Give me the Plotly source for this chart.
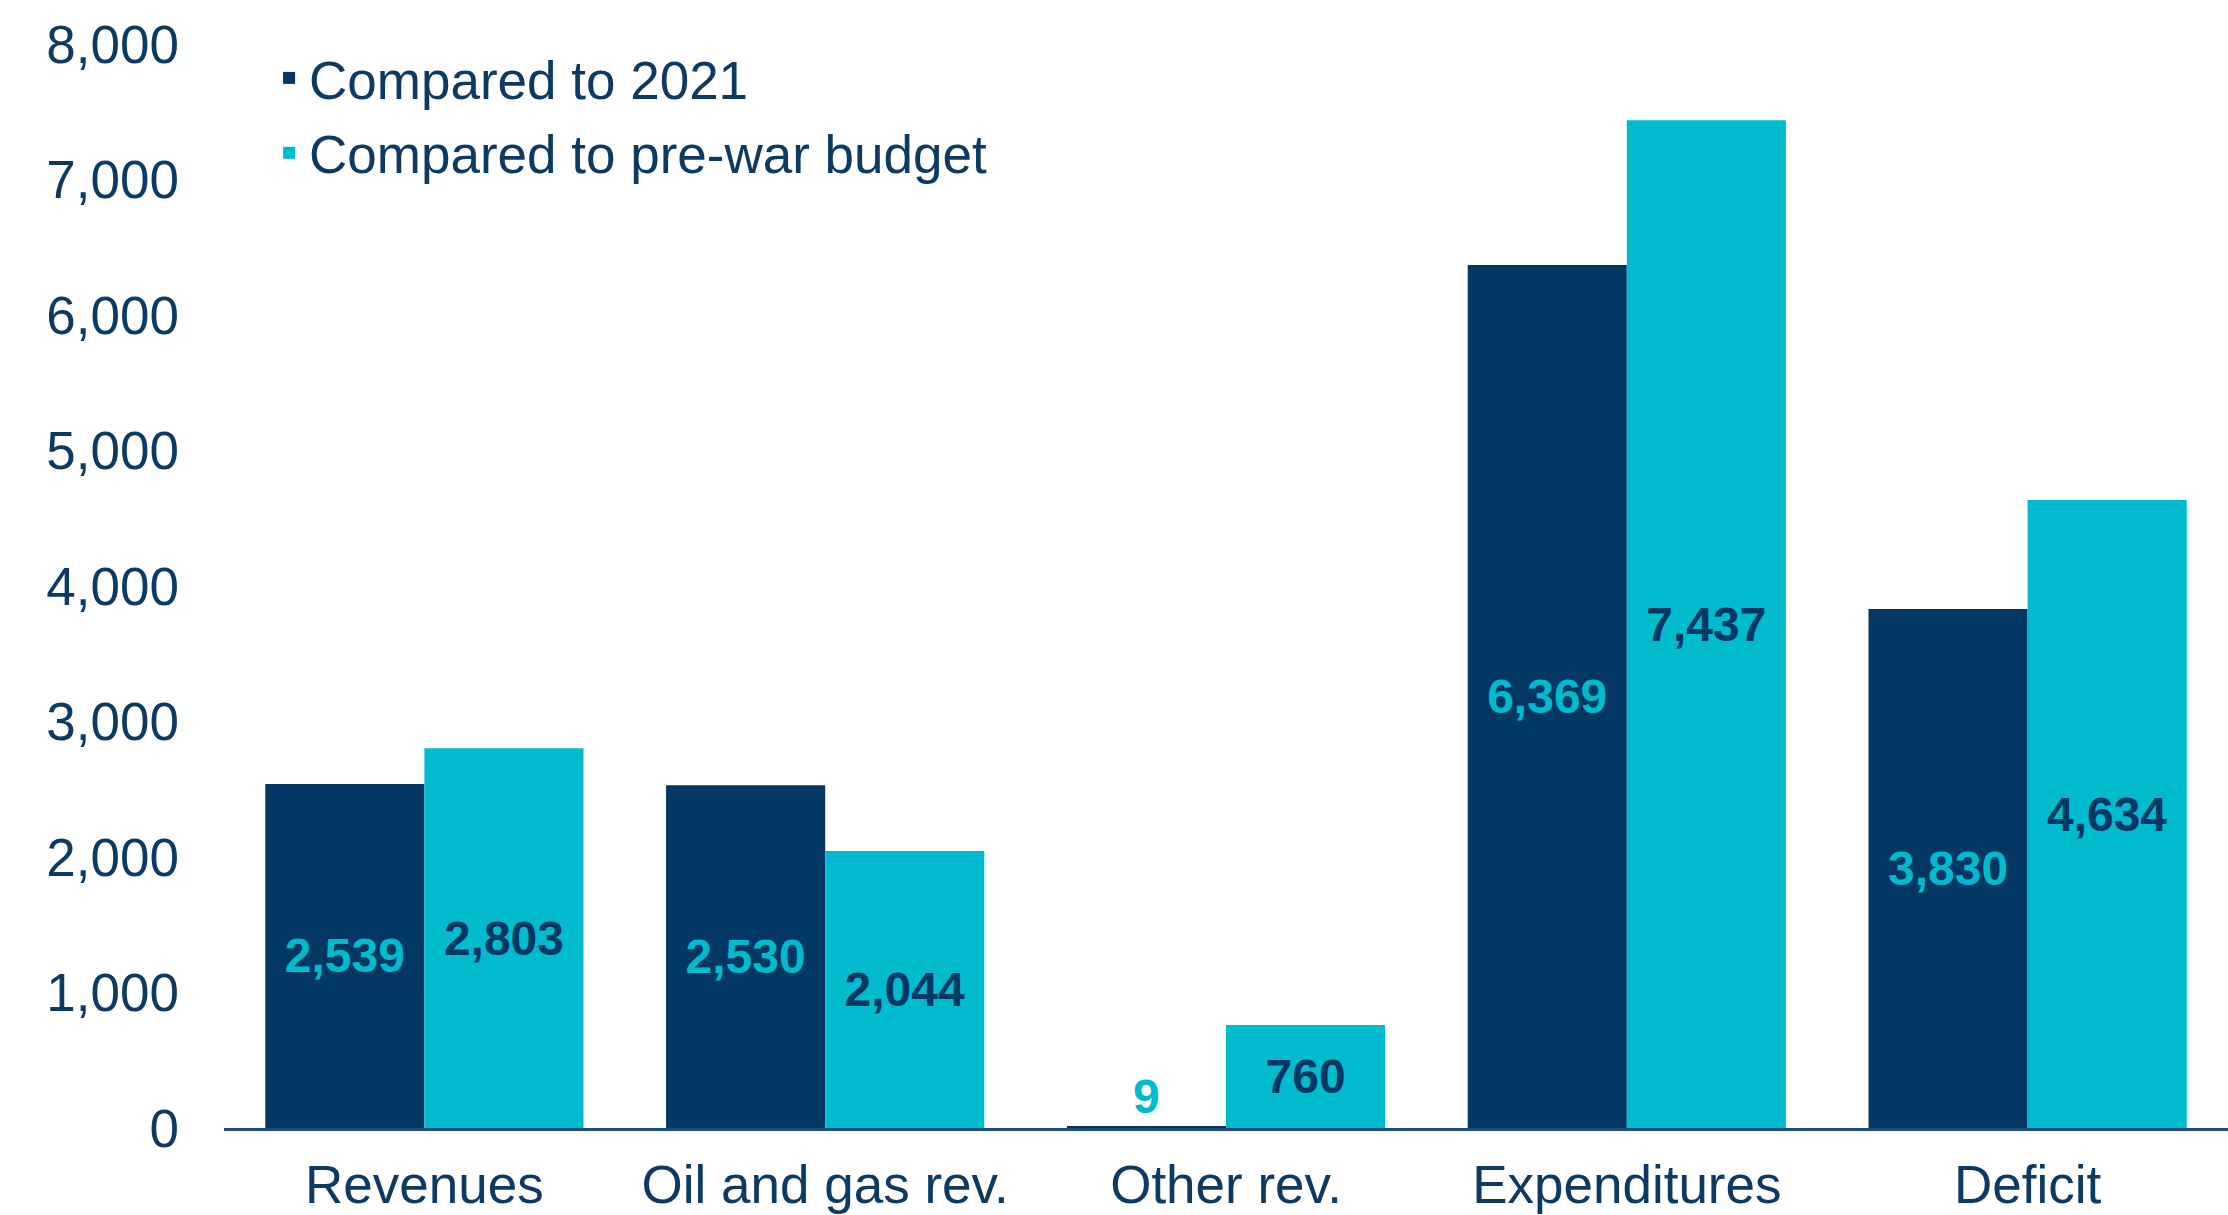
import plotly.graph_objects as go

# Budget changes, by category
categories = ["Revenues", "Oil and gas rev.", "Other rev.", "Expenditures", "Deficit"]
vs_2021 = [2539, 2530, 9, 6369, 3830]
vs_prewar = [2803, 2044, 760, 7437, 4634]
series_names = ["Compared to 2021", "Compared to pre-war budget"]
y_ticks = [0, 1000, 2000, 3000, 4000, 5000, 6000, 7000, 8000]

NAVY = "#023863"
CYAN = "#00BACE"
TEXT = "#0C3A63"
FONT = "Liberation Sans, Arial, sans-serif"

fig = go.Figure()
fig.add_trace(go.Bar(
    x=categories, y=vs_2021, name=series_names[0],
    marker=dict(color=NAVY, line=dict(width=0)),
    texttemplate="%{y:,}", textposition="auto", insidetextanchor="middle",
    textfont=dict(family=FONT, size=48, color=CYAN, weight="bold"),
    legendgroup="a", cliponaxis=False,
))
fig.add_trace(go.Bar(
    x=categories, y=vs_prewar, name=series_names[1],
    marker=dict(color=CYAN, line=dict(width=0)),
    texttemplate="%{y:,}", textposition="auto", insidetextanchor="middle",
    textfont=dict(family=FONT, size=48, color=NAVY, weight="bold"),
    legendgroup="b", cliponaxis=False,
))

fig.update_layout(
    width=2228, height=1215,
    margin=dict(l=224, r=0, t=44, b=87),
    paper_bgcolor="white", plot_bgcolor="white",
    font=dict(family=FONT, size=53, color=TEXT),
    barmode="group", bargap=0.206, bargroupgap=0,
    showlegend=True,
    legend=dict(
        x=0.0225, y=1.0065, xanchor="left", yanchor="top",
        bgcolor="rgba(0,0,0,0)", font=dict(size=53, color=TEXT),
        traceorder="grouped", tracegroupgap=3,
    ),
    xaxis=dict(
        showgrid=False, showline=True, linecolor="#1F4C7A", linewidth=3,
        ticks="", tickfont=dict(size=53, color=TEXT), ticklabelstandoff=8,
    ),
    yaxis=dict(
        range=[0, 8000], tickvals=y_ticks, tickformat=",",
        showgrid=False, zeroline=False, showline=False, ticks="",
        tickfont=dict(size=53, color=TEXT), ticklabelstandoff=44,
    ),
)

fig.write_html("out.html")
